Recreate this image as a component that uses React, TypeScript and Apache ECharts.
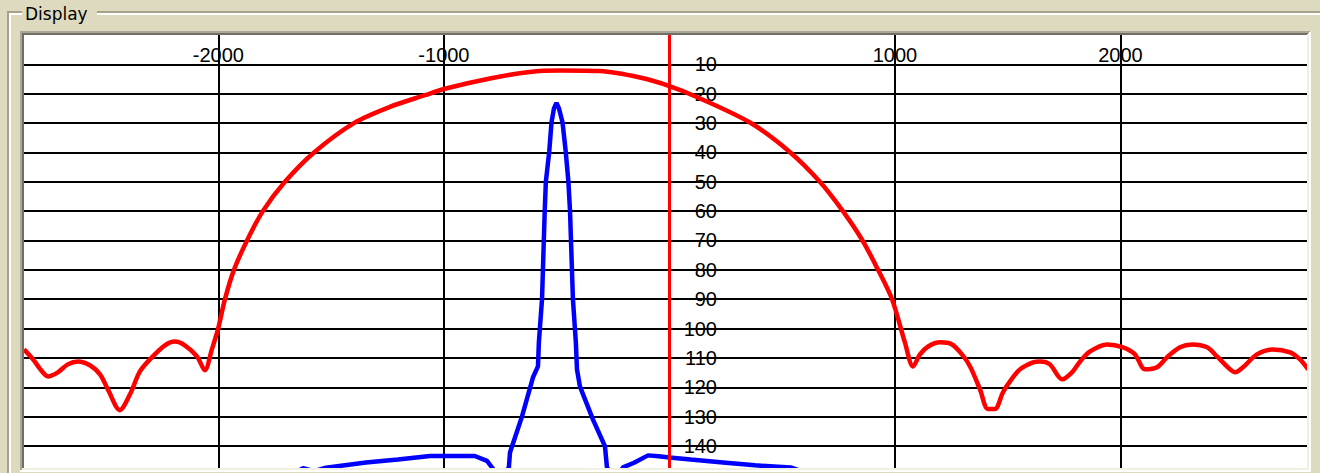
import React, { useEffect, useRef } from 'react';
import * as echarts from 'echarts';

// Frequency offset (x) and level (y, increasing downward)
const redFreq = [
  -2862, -2822, -2782, -2756, -2712, -2668, -2623, -2570, -2525, -2490, -2437, -2392, -2348, -2295,
  -2237, -2193, -2149, -2095, -2060, -2029, -2002, -1971, -1931, -1873, -1803, -1705, -1576, -1399,
  -1240, -1084, -996, -796, -619, -486, -308, -131, 0, 124, 359, 536, 667, 769, 856, 925, 987,
  1044, 1080, 1111, 1147, 1200, 1253, 1297, 1333, 1377, 1412, 1443, 1479, 1510, 1554, 1612,
  1643, 1687, 1741, 1785, 1821, 1865, 1940, 2011, 2064, 2109, 2162, 2206, 2264, 2317, 2384, 2428,
  2486, 2508, 2543, 2605, 2676, 2752, 2796, 2832,
];
const redLevel = [
  107.1, 110.5, 114.6, 116.3, 114.9, 112.2, 111.2, 112.5, 115.6, 120.7, 127.8, 122.4, 114.6, 109.8,
  105.7, 104.4, 105.7, 109.5, 114.2, 107.1, 100.3, 90, 80, 70, 60, 50, 40, 30,
  24.5, 20.5, 18.3, 14.8, 12.6, 12.1, 12.3, 14.5, 17.4, 21.2, 29.9, 40, 50, 60, 70, 80, 90,
  104.7, 112.9, 108.8, 106.1, 104.7, 105.4, 108.8, 112.9, 120.7, 127.4, 127.4, 121.7, 118, 113.9, 111.5,
  111.2, 112.2, 117.3, 114.9, 111.2, 107.8, 105.4, 106.4, 108.8, 113.9, 113.2, 109.8, 106.4, 105.4, 106.4, 109.5,
  113.9, 114.9, 113.2, 108.8, 107.1, 108.1, 110.5, 113.9,
];

const blueFreq = [
  -1680, -1625, -1575, -1523, -1346, -1204, -1062, -863, -809, -785, -750, -712, -707, -654, -605,
  -583, -579, -565, -553, -548, -533, -523, -512, -501, -490, -474, -460, -448, -441, -428, -415,
  -410, -397, -339, -286, -277, -240, -206, -157, -95, -48, 0, 94, 237, 379, 537, 600,
];
const blueLevel = [
  150, 147.6, 148.6, 147.4, 145.6, 144.6, 143.4, 143.4, 145.1, 147.5, 152, 147.3, 142.2, 130, 116.6,
  112.9, 104.7, 90, 59.8, 50, 39.7, 29.8, 25, 23.1, 25, 29.8, 39.7, 50, 59.8, 90, 104.7,
  113.9, 119.7, 131, 140.1, 147.3, 152, 147.3, 145.7, 143.2, 143.5, 143.9, 144.6, 145.6, 146.6, 147.3, 149,
];

const xMin = -2862;
const xMax = 2827;
const yMin = 0;
const yMax = 147.5;
const groupTitle = 'Display';

export default function App() {
  const ref = useRef<HTMLDivElement>(null);

  useEffect(() => {
    const chart = echarts.init(ref.current!, null, { renderer: 'svg' });
    const beige = '#DEDAC0';
    const labelFont = { color: '#000', fontSize: 20, fontFamily: 'Liberation Sans' };

    const option: any = {
      animation: false,
      backgroundColor: beige,
      grid: {
        left: 24,
        top: 35,
        width: 1283,
        height: 433,
        show: true,
        backgroundColor: '#ffffff',
        borderWidth: 0,
      },
      xAxis: {
        type: 'value',
        position: 'top',
        min: xMin,
        max: xMax,
        minInterval: 1000,
        maxInterval: 1000,
        axisLine: { show: false, onZero: false },
        axisTick: { show: false },
        axisLabel: {
          ...labelFont,
          inside: true,
          margin: 10,
          formatter: (v: number) => (v !== 0 && v % 1000 === 0 ? String(v) : ''),
        },
        splitLine: {
          show: true,
          showMinLine: false,
          showMaxLine: false,
          lineStyle: { color: '#000', width: 2 },
        },
      },
      yAxis: {
        type: 'value',
        position: 'left',
        inverse: true,
        min: yMin,
        max: yMax,
        minInterval: 10,
        maxInterval: 10,
        axisLine: { show: true, onZero: true, lineStyle: { color: '#ff0000', width: 3 } },
        axisTick: { show: false },
        axisLabel: {
          ...labelFont,
          inside: true,
          align: 'right',
          margin: 693,
          formatter: (v: number) => (v > 0 && v <= 140 && v % 10 === 0 ? String(v) : ''),
        },
        splitLine: {
          show: true,
          showMinLine: false,
          showMaxLine: false,
          lineStyle: { color: '#000', width: 2 },
        },
      },
      series: [
        {
          type: 'line',
          data: redFreq.map((x, i) => [x, redLevel[i]]),
          symbol: 'none',
          smooth: 0.3,
          clip: true,
          lineStyle: { color: '#ff0000', width: 4.5 },
        },
        {
          type: 'line',
          data: blueFreq.map((x, i) => [x, blueLevel[i]]),
          symbol: 'none',
          clip: true,
          lineStyle: { color: '#0000ff', width: 4.5 },
          markLine: {
            silent: true,
            symbol: 'none',
            label: { show: false },
            lineStyle: { color: '#ff0000', width: 3, type: 'solid' },
            data: [{ xAxis: 0 }],
          },
        },
      ],
      graphic: [
        // group box etched frame
        { type: 'line', z: 10, shape: { x1: 7, y1: 12, x2: 22, y2: 12 }, style: { stroke: '#A5A18C', lineWidth: 2 } },
        { type: 'line', z: 10, shape: { x1: 97, y1: 12, x2: 1320, y2: 12 }, style: { stroke: '#A5A18C', lineWidth: 2 } },
        { type: 'line', z: 10, shape: { x1: 9, y1: 14, x2: 22, y2: 14 }, style: { stroke: '#ffffff', lineWidth: 2 } },
        { type: 'line', z: 10, shape: { x1: 97, y1: 14, x2: 1320, y2: 14 }, style: { stroke: '#ffffff', lineWidth: 2 } },
        { type: 'line', z: 10, shape: { x1: 8, y1: 11, x2: 8, y2: 473 }, style: { stroke: '#A5A18C', lineWidth: 2 } },
        { type: 'line', z: 10, shape: { x1: 10, y1: 13, x2: 10, y2: 473 }, style: { stroke: '#ffffff', lineWidth: 2 } },
        {
          type: 'text',
          z: 10,
          x: 25,
          y: 14,
          style: { text: groupTitle, font: '17px "DejaVu Sans"', fill: '#000', verticalAlign: 'middle' },
        },
        // sunken plot border
        { type: 'polyline', z: 10, shape: { points: [[21, 470], [21, 32], [1310, 32]] }, style: { stroke: '#ACA899', lineWidth: 2, fill: 'none' } },
        { type: 'polyline', z: 10, shape: { points: [[23, 468], [23, 34], [1308, 34]] }, style: { stroke: '#716F64', lineWidth: 2, fill: 'none' } },
        { type: 'polyline', z: 10, shape: { points: [[22, 469], [1308, 469], [1308, 34]] }, style: { stroke: '#F1EFE2', lineWidth: 2, fill: 'none' } },
        { type: 'polyline', z: 10, shape: { points: [[20, 471], [1310, 471], [1310, 32]] }, style: { stroke: '#ffffff', lineWidth: 2, fill: 'none' } },
      ],
    };

    chart.setOption(option);
    return () => chart.dispose();
  }, []);

  return <div ref={ref} style={{ position: 'fixed', left: 0, top: 0, width: 1320, height: 473 }} />;
}
